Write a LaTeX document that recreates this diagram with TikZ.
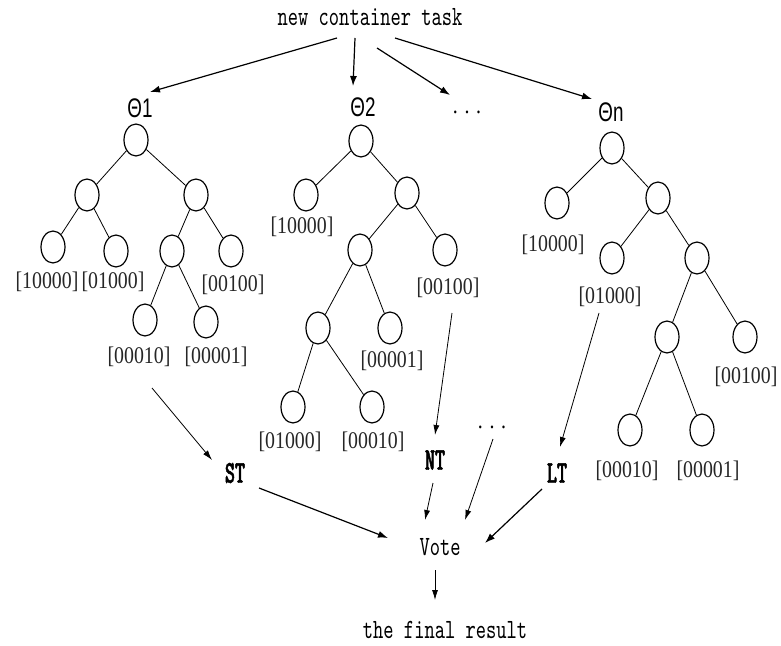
\documentclass[tikz,border=0pt]{standalone}
\usepackage{fontspec}
\setmainfont{Liberation Serif}
\newfontfamily\labf[FakeStretch=0.83]{Liberation Serif}
\newfontfamily\monof{lmmono10-regular}[Extension=.otf,FakeStretch=0.7]
\newfontfamily\monob{lmmonolt10-bold}[Extension=.otf,FakeStretch=0.6,FakeBold=1.5]
\newfontfamily\thetaf[FakeStretch=0.7]{Liberation Sans}
\usetikzlibrary{shapes.geometric,arrows.meta}
\begin{document}
\begin{tikzpicture}[x=1bp,y=-1bp,
  nd/.style={draw,ellipse,minimum width=24bp,minimum height=32bp,inner sep=0pt,line width=1.2bp},
  ed/.style={line width=0.8bp},
  lab/.style={font=\labf\fontsize{24}{26}\selectfont,text=black!85,inner sep=0pt},
  mono/.style={font=\monof\fontsize{28}{30}\selectfont,inner sep=0pt},
  bmono/.style={font=\monob\fontsize{32}{34}\selectfont,inner sep=0pt},
  th/.style={font=\thetaf\fontsize{27}{29}\selectfont,inner sep=0pt},
  arr/.style={line width=1.2bp,-{Latex[length=10bp,width=7bp]}},
  tarr/.style={line width=0.8bp,-{Latex[length=10bp,width=6bp]}}]
\useasboundingbox (0,0) rectangle (781,646);

% top
\node[mono] (task) at (370,17) {new container task};
\node[th] (th1) at (140,108) {Θ1};
\node[th] (th2) at (363,107) {Θ2};
\node[lab,text=black] (dots1) at (467,112) {. . .};
\node[th] (thn) at (611,112) {Θn};

\draw[arr] ([shift={(-33,21)}]task.center) -- ([shift={(10,-16)}]th1.center);
\draw[arr] ([shift={(-15,21)}]task.center) -- ([shift={(-10,-21)}]th2.center);
\draw[arr] ([shift={(7,31)}]task.center) -- ([shift={(-17,-17)}]dots1.center);
\draw[arr] ([shift={(25,21)}]task.center) -- ([shift={(-19,-13)}]thn.center);

% tree 1
\node[nd] (a0) at (136,140) {};
\node[nd] (a1) at (87,195) {};
\node[nd] (a2) at (196,195) {};
\node[nd] (a3) at (53,247) {};
\node[nd] (a4) at (116,251) {};
\node[nd] (a5) at (172,251) {};
\node[nd] (a6) at (231,251) {};
\node[nd] (a7) at (145,320) {};
\node[nd] (a8) at (206,322) {};
\draw[ed] (a0) -- (a1); \draw[ed] (a0) -- (a2);
\draw[ed] (a1) -- (a3); \draw[ed] (a1) -- (a4);
\draw[ed] (a2) -- (a5); \draw[ed] (a2) -- (a6);
\draw[ed] (a5) -- (a7); \draw[ed] (a5) -- (a8);
\node[lab] (la3) at (47,282) {[10000]};
\node[lab] (la4) at (113,282) {[01000]};
\node[lab] (la6) at (233,285) {[00100]};
\node[lab] (la7) at (139,357) {[00010]};
\node[lab] (la8) at (216,357) {[00001]};

% tree 2
\node[nd] (b0) at (361,141) {};
\node[nd] (b1) at (306,195) {};
\node[nd] (b2) at (407,193) {};
\node[nd] (b3) at (360,250) {};
\node[nd] (b4) at (445,250) {};
\node[nd] (b5) at (318,328) {};
\node[nd] (b6) at (390,328) {};
\node[nd] (b7) at (293,407) {};
\node[nd] (b8) at (372,407) {};
\draw[ed] (b0) -- (b1); \draw[ed] (b0) -- (b2);
\draw[ed] (b2) -- (b3); \draw[ed] (b2) -- (b4);
\draw[ed] (b3) -- (b5); \draw[ed] (b3) -- (b6);
\draw[ed] (b5) -- (b7); \draw[ed] (b5) -- (b8);
\node[lab] (lb1) at (302,227) {[10000]};
\node[lab] (lb4) at (448,288) {[00100]};
\node[lab] (lb6) at (392,361) {[00001]};
\node[lab] (lb7) at (290,442) {[01000]};
\node[lab] (lb8) at (373,442) {[00010]};

% tree 3
\node[nd] (c0) at (612,148) {};
\node[nd] (c1) at (557,203) {};
\node[nd] (c2) at (658,198) {};
\node[nd] (c3) at (612,258) {};
\node[nd] (c4) at (697,258) {};
\node[nd] (c5) at (667,337) {};
\node[nd] (c6) at (745,337) {};
\node[nd] (c7) at (630,430) {};
\node[nd] (c8) at (702,430) {};
\draw[ed] (c0) -- (c1); \draw[ed] (c0) -- (c2);
\draw[ed] (c2) -- (c3); \draw[ed] (c2) -- (c4);
\draw[ed] (c4) -- (c5); \draw[ed] (c4) -- (c6);
\draw[ed] (c5) -- (c7); \draw[ed] (c5) -- (c8);
\node[lab] (lc1) at (553,245) {[10000]};
\node[lab] (lc3) at (610,297) {[01000]};
\node[lab] (lc6) at (746,377) {[00100]};
\node[lab] (lc7) at (627,471) {[00010]};
\node[lab] (lc8) at (708,471) {[00001]};

% bottom
\node[bmono] (ST) at (235,473) {ST};
\node[bmono] (NT) at (435,460) {NT};
\node[lab,text=black] (dots2) at (492,427) {. . .};
\node[bmono] (LT) at (557,473) {LT};
\node[mono] (vote) at (440,547) {Vote};
\node[mono] (final) at (445,630) {the final result};

\draw[tarr] ([shift={(13,31)}]la7.center) -- ([shift={(-23,-13)}]ST.center);
\draw[tarr] ([shift={(4,25)}]lb4.center) -- ([shift={(0,-25)}]NT.center);
\draw[tarr] ([shift={(-11,16)}]lc3.center) -- ([shift={(3,-26)}]LT.center);
\draw[arr] ([shift={(24,15)}]ST.center) -- ([shift={(-52,-9)}]vote.center);
\draw[tarr] ([shift={(-2,23)}]NT.center) -- ([shift={(-15,-27)}]vote.center);
\draw[tarr] ([shift={(1,12)}]dots2.center) -- ([shift={(25,-27)}]vote.center);
\draw[arr] ([shift={(-15,16)}]LT.center) -- ([shift={(45,-4)}]vote.center);
\draw[tarr] ([shift={(-5,23)}]vote.center) -- ([shift={(-10,-30)}]final.center);
\end{tikzpicture}
\end{document}
